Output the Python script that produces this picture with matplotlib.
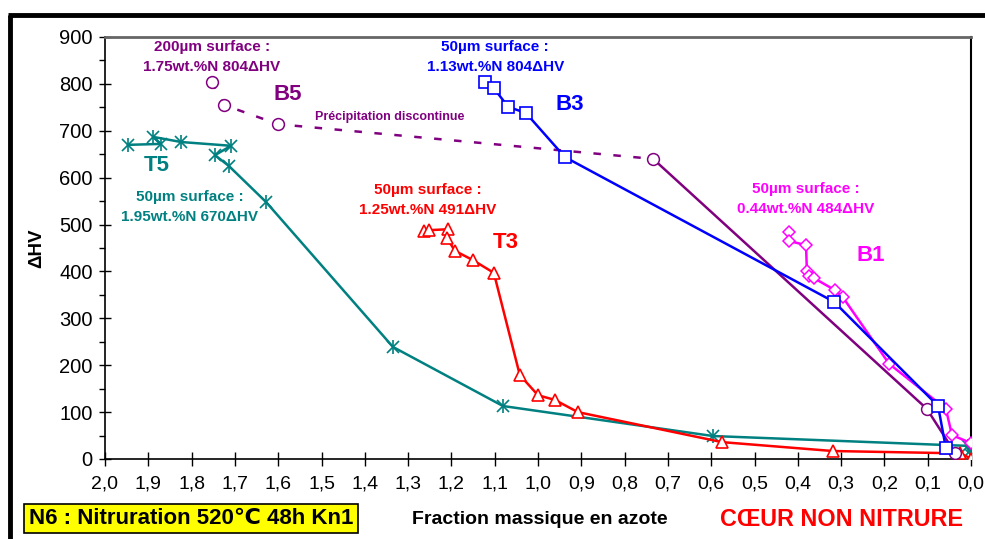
import matplotlib
matplotlib.use("Agg")
import matplotlib.pyplot as plt
from matplotlib.lines import Line2D
from matplotlib.ticker import MultipleLocator, FuncFormatter

plt.rcParams['font.family'] = ['Liberation Sans', 'DejaVu Sans']

# ---- data ----
t5_x = [1.947, 1.871, 1.889, 1.824, 1.709, 1.746, 1.714, 1.628, 1.335, 1.081, 0.596, 0.008, 0.002, 0.001]
t5_y = [670, 672, 687, 676, 668, 648, 625, 548, 239, 113, 49, 28, 16, 8]

t3_x = [1.263, 1.252, 1.208, 1.210, 1.192, 1.150, 1.102, 1.042, 1.000, 0.961, 0.908, 0.575, 0.319, 0.025, 0.0]
t3_y = [486, 488, 490, 471, 444, 424, 397, 179, 136, 126, 100, 36, 17, 12, 1]

b3_x = [1.122, 1.102, 1.069, 1.028, 0.938, 0.316, 0.076, 0.058]
b3_y = [804, 791, 751, 738, 644, 335, 113, 23]

b5_x = [1.753, 1.725, 1.600, 0.734, 0.102, 0.037]
b5_y = [804, 755, 714, 640, 107, 13]

b1_x = [0.420, 0.420, 0.381, 0.379, 0.374, 0.363, 0.314, 0.296, 0.189, 0.058, 0.044, 0.0]
b1_y = [484, 465, 456, 401, 390, 386, 360, 345, 203, 107, 51, 34]

x_ticks = [2.0 - 0.1 * i for i in range(21)]
y_ticks = [0, 100, 200, 300, 400, 500, 600, 700, 800, 900]

TEAL = '#008080'
RED = '#FF0000'
BLUE = '#0000FF'
PURPLE = '#800080'
MAGENTA = '#FF00FF'

fig = plt.figure(figsize=(9.85, 5.39), dpi=100)
ax = fig.add_axes([105 / 985, 80 / 539, 866 / 985, 422 / 539])

lw = 1.8
# T5 : asterisk markers (x + |)
ax.plot(t5_x, t5_y, color=TEAL, lw=lw, marker='x', ms=8, mew=1.2, zorder=3)
ax.plot(t5_x, t5_y, color=TEAL, lw=0, marker='|', ms=10, mew=1.2, zorder=3)
# T3
ax.plot(t3_x, t3_y, color=RED, lw=lw, marker='^', ms=8, mfc='white', mew=1.2, zorder=4)
# B5 : dashed for discontinuous precipitation, then solid
ax.plot(b5_x[:4], b5_y[:4], color=PURPLE, lw=lw, ls=(0, (3, 5)), zorder=3)
ax.plot(b5_x[3:], b5_y[3:], color=PURPLE, lw=lw, zorder=3)
ax.plot(b5_x, b5_y, color=PURPLE, lw=0, marker='o', ms=8.5, mfc='white', mew=1.1, zorder=5)
# B1
ax.plot(b1_x, b1_y, color=MAGENTA, lw=lw, marker='D', ms=6.5, mfc='white', mew=1.1, zorder=4)
# B3
ax.plot(b3_x, b3_y, color=BLUE, lw=lw, marker='s', ms=8.5, mfc='white', mew=1.2, zorder=5)

ax.set_xlim(2.0, 0.0)
ax.set_ylim(0, 900)
ax.set_xticks(x_ticks)
ax.xaxis.set_major_formatter(FuncFormatter(lambda v, p: f"{abs(v):.1f}".replace('.', ',')))
ax.set_yticks(y_ticks)
ax.yaxis.set_minor_locator(MultipleLocator(50))
ax.tick_params(axis='x', which='major', direction='inout', length=10, width=1, pad=7, labelsize=14)
ax.tick_params(axis='y', which='major', direction='inout', length=8, width=1, pad=5, labelsize=14.5)
ax.tick_params(axis='y', which='minor', direction='out', length=4, width=1)
ax.spines['top'].set_color('#666666')
ax.spines['top'].set_linewidth(2)
ax.spines['right'].set_linewidth(1.5)
ax.spines['left'].set_linewidth(1.2)
ax.spines['bottom'].set_linewidth(1.2)

ax.set_ylabel('ΔHV', fontsize=13.5, fontweight='bold', labelpad=10)

fs = 11
kw = dict(ha='center', va='center', fontweight='bold', fontsize=fs, linespacing=1.55)
ax.text(1.753, 857, '200µm surface :\n1.75wt.%N 804ΔHV', color=PURPLE, **kw)
ax.text(1.099, 857, '50µm surface :\n1.13wt.%N 804ΔHV', color=BLUE, **kw)
ax.text(1.804, 537, '50µm surface :\n1.95wt.%N 670ΔHV', color=TEAL, **kw)
ax.text(1.254, 552, '50µm surface :\n1.25wt.%N 491ΔHV', color=RED, **kw)
ax.text(0.381, 554, '50µm surface :\n0.44wt.%N 484ΔHV', color=MAGENTA, **kw)

bk = dict(ha='center', va='center', fontweight='bold', fontsize=16)
ax.text(1.577, 778, 'B5', color=PURPLE, **bk)
ax.text(0.926, 755, 'B3', color=BLUE, **bk)
ax.text(1.880, 627, 'T5', color=TEAL, **bk)
ax.text(1.074, 461, 'T3', color=RED, **bk)
ax.text(0.231, 433, 'B1', color=MAGENTA, **bk)
ax.text(1.342, 729, 'Précipitation discontinue', color=PURPLE, ha='center', va='center',
        fontweight='bold', fontsize=9)

# bottom texts
fig.text(191 / 985, 1 - 518.5 / 539, 'N6 : Nitruration 520℃ 48h Kn1', ha='center', va='center',
         fontsize=16, fontweight='bold', family=['Liberation Sans', 'DejaVu Sans'],
         bbox=dict(boxstyle='square,pad=0.2', fc='#FFFF00', ec='black', lw=1.2))
fig.text(540 / 985, 1 - 519 / 539, 'Fraction massique en azote', ha='center', va='center',
         fontsize=14, fontweight='bold')
fig.text(842 / 985, 1 - 519 / 539, 'CŒUR NON NITRURE', ha='center', va='center',
         fontsize=16.8, fontweight='bold', color=RED)

# outer frame (left and top thick lines)
fig.add_artist(Line2D([10 / 985, 10 / 985], [0, 1 - 14.5 / 539], transform=fig.transFigure,
                      color='black', lw=3.5, solid_capstyle='butt'))
fig.add_artist(Line2D([8 / 985, 1], [1 - 14.5 / 539, 1 - 14.5 / 539], transform=fig.transFigure,
                      color='black', lw=3.5, solid_capstyle='butt'))

fig.savefig('out.png', dpi=100)
